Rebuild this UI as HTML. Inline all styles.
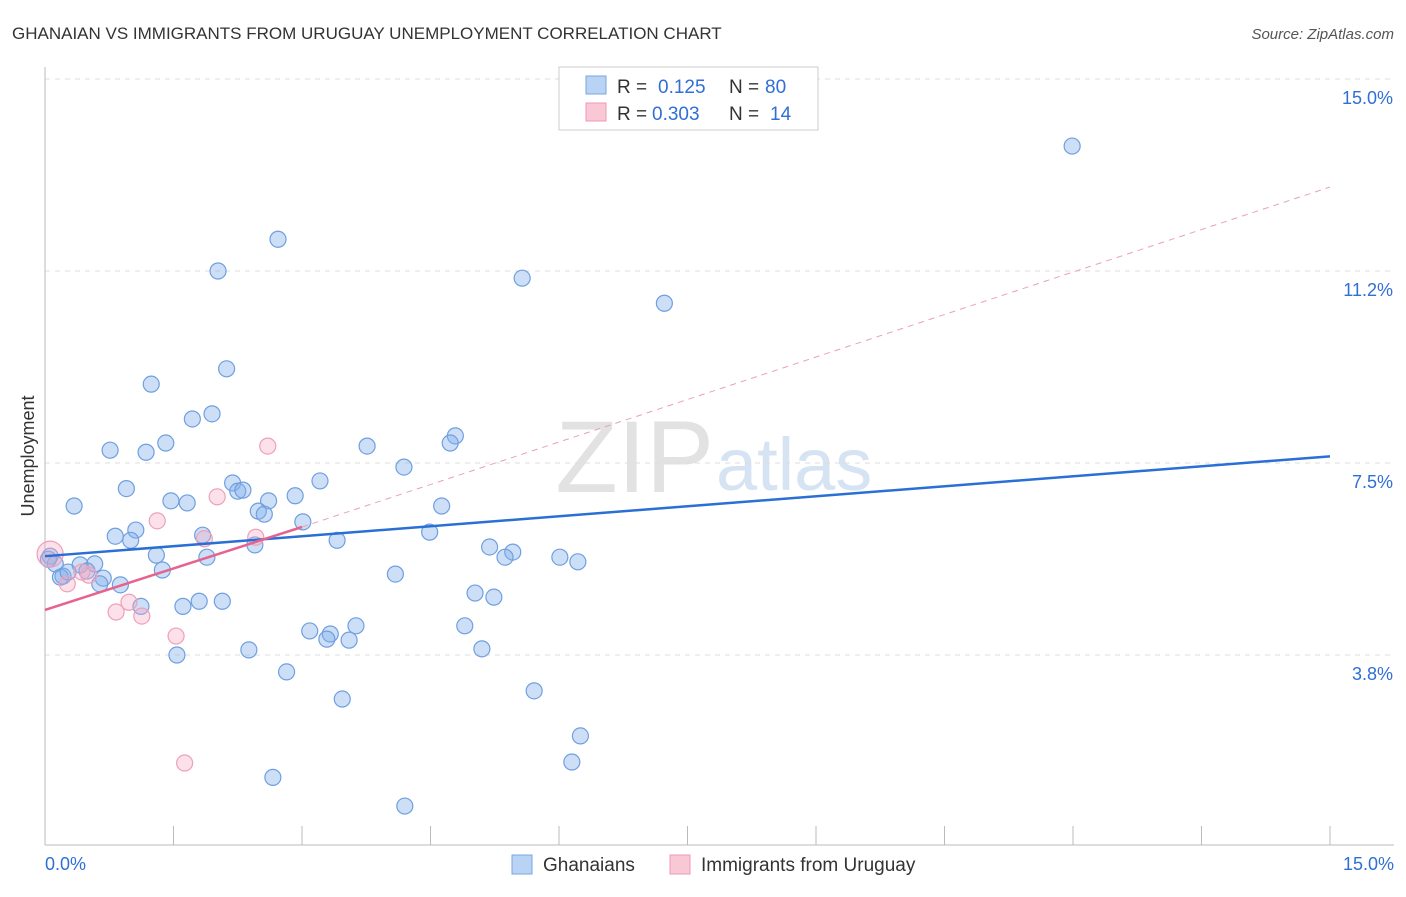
<!DOCTYPE html>
<html><head><meta charset="utf-8"><style>
body{margin:0;background:#fff;font-family:"Liberation Sans",sans-serif;}
svg text{font-family:"Liberation Sans",sans-serif;}
</style></head><body>
<svg id="chart" width="1406" height="892">
<text x="12" y="39" font-size="17" fill="#333">GHANAIAN VS IMMIGRANTS FROM URUGUAY UNEMPLOYMENT CORRELATION CHART</text>
<text x="1394" y="39" font-size="15" fill="#555" text-anchor="end" font-style="italic">Source: ZipAtlas.com</text>
<text x="714" y="492" font-size="102" fill="#e2e2e2" text-anchor="end" font-family="Liberation Serif">ZIP</text>
<text x="716" y="490" font-size="74" fill="#d5e3f3">atlas</text>
<g id="grid"></g><g id="axes"></g><g id="pts"></g><g id="lines"></g>
<text x="34" y="456" font-size="18" fill="#333" text-anchor="middle" transform="rotate(-90 34 456)">Unemployment</text>
<g>
<rect x="559" y="67" width="259" height="63" fill="#fff" stroke="#ccc"/>
<rect x="586" y="76" width="20" height="18" fill="#b9d3f5" stroke="#7ba6e0"/>
<rect x="586" y="103" width="20" height="18" fill="#f9c8d7" stroke="#ee9ab4"/>
<text y="93" font-size="19" fill="#333"><tspan x="617">R =</tspan><tspan x="658" fill="#2f6fd6">0.125</tspan><tspan x="729">N =</tspan><tspan x="765" fill="#2f6fd6">80</tspan></text>
<text y="120" font-size="19" fill="#333"><tspan x="617">R =</tspan><tspan x="652" fill="#2f6fd6">0.303</tspan><tspan x="729">N =</tspan><tspan x="770" fill="#2f6fd6">14</tspan></text>
</g>
<g>
<rect x="512" y="855" width="20" height="19" fill="#b9d3f5" stroke="#7ba6e0"/>
<text x="543" y="871" font-size="19" fill="#333">Ghanaians</text>
<rect x="670" y="855" width="20" height="19" fill="#f9c8d7" stroke="#ee9ab4"/>
<text x="701" y="871" font-size="19" fill="#333">Immigrants from Uruguay</text>
</g>
</svg>
<script>
const xTicks=[0,1.5,3,4.5,6,7.5,9,10.5,12,13.5,15];
const yGrid=[15,11.25,7.5,3.75];
const yLabels=["15.0%","11.2%","7.5%","3.8%"];
const blueX=[11.99,2.72,2.02,5.57,7.23,2.12,1.24,1.95,1.72,1.41,0.76,1.18,3.76,4.79,4.73,4.19,0.95,0.34,2.19,2.25,2.31,1.47,1.66,2.92,3.21,2.61,2.49,2.56,3.01,4.63,1.06,0.82,1.0,1.84,3.41,4.49,5.19,5.46,5.37,6.01,6.22,1.30,1.89,2.45,0.06,0.12,0.41,0.58,0.49,0.21,1.37,0.68,0.64,0.88,4.09,1.12,1.61,1.80,2.07,5.02,5.24,3.09,3.33,3.29,3.63,3.55,4.90,1.54,2.38,5.10,2.82,3.47,5.71,6.25,2.66,6.15,4.20,0.18,0.27,0.04];
const blueY=[13.69,11.87,11.25,11.11,10.62,9.34,9.04,8.46,8.36,7.89,7.75,7.71,7.83,8.03,7.89,7.42,7.0,6.66,7.11,6.95,6.97,6.76,6.72,6.86,7.15,6.76,6.56,6.50,6.35,6.66,6.19,6.07,5.99,6.09,5.99,6.15,5.86,5.76,5.66,5.66,5.57,5.70,5.66,5.90,5.68,5.53,5.51,5.53,5.39,5.29,5.41,5.25,5.14,5.12,5.33,4.70,4.70,4.80,4.80,4.96,4.88,4.22,4.16,4.06,4.32,4.04,4.32,3.75,3.85,3.87,3.42,2.89,3.05,2.17,1.36,1.66,0.80,5.27,5.37,5.62];
const pinkX=[0.06,0.26,0.51,1.31,2.01,2.60,2.46,1.86,0.98,0.83,1.13,1.53,1.63,0.43];
const pinkY=[5.72,5.14,5.31,6.37,6.84,7.83,6.05,6.02,4.78,4.59,4.51,4.12,1.64,5.37];
const pinkR=[13,8,8,8,8,8,8,8,8,8,8,8,8,8];
const blueLine=[[0,5.68],[15,7.63]];
const pinkLine=[[0,4.63],[3,6.25]];
const pinkDash=[[3,6.25],[15,12.89]];
const X=v=>45+v/15*1285, Y=v=>79+(15-v)*51.2;
const NS="http://www.w3.org/2000/svg";
function mk(t,a,p){const e=document.createElementNS(NS,t);for(const k in a)e.setAttribute(k,a[k]);document.getElementById(p).appendChild(e);return e;}
yGrid.forEach((v,i)=>{
 const l=mk('line',{x1:45,x2:1394,y1:Y(v),y2:Y(v),stroke:'#ddd','stroke-dasharray':'5,5'},'grid');
 
 
 const t=mk('text',{x:1393,y:Y(v)+25,'font-size':18,fill:'#2f6fd6','text-anchor':'end'},'grid');t.textContent=yLabels[i];
 
 
});
let a=mk('line',{x1:45,x2:45,y1:67,y2:845,stroke:'#bbb'},'axes');


a=mk('line',{x1:45,x2:1394,y1:845,y2:845,stroke:'#bbb'},'axes');


xTicks.forEach(v=>{const l=mk('line',{x1:X(v),x2:X(v),y1:826,y2:845,stroke:'#bbb'},'axes');
 
 });
let t=mk('text',{x:45,y:870,'font-size':18,fill:'#2f6fd6'},'axes');t.textContent=xTicks[0].toFixed(1)+'%';


t=mk('text',{x:1394,y:870,'font-size':18,fill:'#2f6fd6','text-anchor':'end'},'axes');t.textContent=xTicks[xTicks.length-1].toFixed(1)+'%';


blueX.forEach((v,i)=>{const c=mk('circle',{cx:X(v),cy:Y(blueY[i]),r:8,fill:'rgba(130,175,235,0.4)',stroke:'#6f9fe0','stroke-width':1.2},'pts');
 
 });
pinkX.forEach((v,i)=>{const c=mk('circle',{cx:X(v),cy:Y(pinkY[i]),r:pinkR[i],fill:'rgba(245,170,195,0.35)',stroke:'#eea0b8','stroke-width':1.2},'pts');
 
 });
let L=mk('line',{x1:X(blueLine[0][0]),y1:Y(blueLine[0][1]),x2:X(blueLine[1][0]),y2:Y(blueLine[1][1]),stroke:'#2a6fd4','stroke-width':2.5},'lines');


L=mk('line',{x1:X(pinkLine[0][0]),y1:Y(pinkLine[0][1]),x2:X(pinkLine[1][0]),y2:Y(pinkLine[1][1]),stroke:'#e5638e','stroke-width':2.5},'lines');


L=mk('line',{x1:X(pinkDash[0][0]),y1:Y(pinkDash[0][1]),x2:X(pinkDash[1][0]),y2:Y(pinkDash[1][1]),stroke:'#eaa0b8','stroke-width':1,'stroke-dasharray':'6,5'},'lines');


</script>
</body></html>
